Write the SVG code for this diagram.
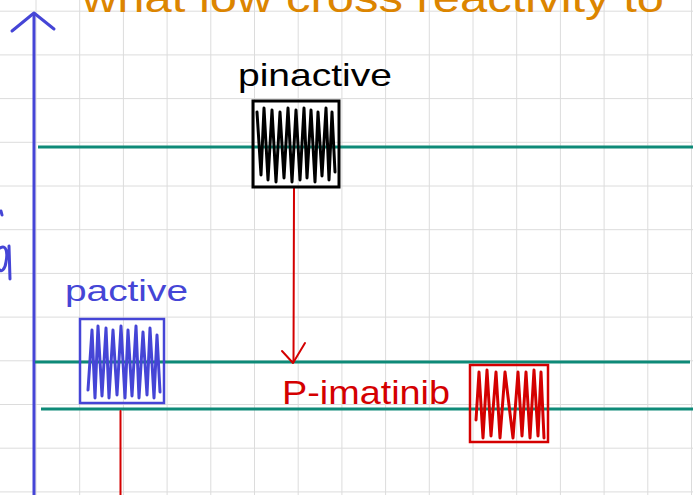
<svg xmlns="http://www.w3.org/2000/svg" width="693" height="495" viewBox="0 0 693 495">
<style>
.grid line{stroke:#dcdcdc;stroke-width:1}
.teal{stroke:#0e8a78;stroke-width:3;fill:none}
.hand{font-family:"Liberation Sans","DejaVu Sans",sans-serif}
.scrib{fill:none;stroke-width:3;stroke-linejoin:round;stroke-linecap:round}
</style>
<rect width="693" height="495" fill="#ffffff"/>
<g class="grid" id="grid">
<line x1="36" y1="0" x2="36" y2="495"/><line x1="79.7" y1="0" x2="79.7" y2="495"/><line x1="123.4" y1="0" x2="123.4" y2="495"/><line x1="167.1" y1="0" x2="167.1" y2="495"/><line x1="210.8" y1="0" x2="210.8" y2="495"/><line x1="254.5" y1="0" x2="254.5" y2="495"/><line x1="298.2" y1="0" x2="298.2" y2="495"/><line x1="341.9" y1="0" x2="341.9" y2="495"/><line x1="385.6" y1="0" x2="385.6" y2="495"/><line x1="429.3" y1="0" x2="429.3" y2="495"/><line x1="473" y1="0" x2="473" y2="495"/><line x1="516.7" y1="0" x2="516.7" y2="495"/><line x1="560.4" y1="0" x2="560.4" y2="495"/><line x1="604.1" y1="0" x2="604.1" y2="495"/><line x1="647.8" y1="0" x2="647.8" y2="495"/><line x1="691.5" y1="0" x2="691.5" y2="495"/>
<line x1="0" y1="11.2" x2="693" y2="11.2"/><line x1="0" y1="54.9" x2="693" y2="54.9"/><line x1="0" y1="98.6" x2="693" y2="98.6"/><line x1="0" y1="142.3" x2="693" y2="142.3"/><line x1="0" y1="186" x2="693" y2="186"/><line x1="0" y1="229.7" x2="693" y2="229.7"/><line x1="0" y1="273.4" x2="693" y2="273.4"/><line x1="0" y1="317.1" x2="693" y2="317.1"/><line x1="0" y1="360.8" x2="693" y2="360.8"/><line x1="0" y1="404.5" x2="693" y2="404.5"/><line x1="0" y1="448.2" x2="693" y2="448.2"/><line x1="0" y1="491.9" x2="693" y2="491.9"/>
</g>
<g id="title">
<text class="hand" x="82" y="12" font-size="40" fill="#dc8500" textLength="582" lengthAdjust="spacingAndGlyphs">what low cross reactivity to</text>
</g>
<g id="axis" stroke="#4545d6" stroke-width="3" fill="none" stroke-linecap="round" stroke-linejoin="round">
<line x1="34" y1="15" x2="34" y2="495"/>
<path d="M12,31 L34,13 L54,29"/>
<path d="M1,211 L2,215" />
<path d="M0,248 C6,244 8,252 6,262 C5,270 1,272 0,270 M9,246 L10,279"/>
</g>
<g id="levels" class="teal">
<line x1="38" y1="147" x2="693" y2="147"/>
<line x1="35" y1="362" x2="690" y2="362"/>
<line x1="41" y1="409" x2="693" y2="409"/>
</g>
<g id="connectors" stroke="#d40000" stroke-width="2" fill="none" stroke-linecap="round" stroke-linejoin="round">
<line x1="294" y1="188" x2="293.5" y2="362"/>
<path d="M282,351 L293,363 L305,343"/>
<line x1="120.5" y1="411" x2="120.5" y2="495"/>
</g>
<g id="pinactive">
<text class="hand" x="238" y="86" font-size="32" fill="#000" textLength="154" lengthAdjust="spacingAndGlyphs">pinactive</text>
<rect x="253" y="101" width="86" height="86" fill="none" stroke="#000" stroke-width="3"/>
<path class="scrib" stroke="#000" d="M257,112 L261,175 L264,108 L268,180 L272,110 L276,182 L280,112 L284,178 L288,108 L292,182 L296,110 L300,180 L304,108 L307,178 L311,110 L315,182 L318,112 L322,176 L326,108 L329,180 L332,112 L335,172"/>
</g>
<g id="pactive">
<text class="hand" x="65" y="301" font-size="30" fill="#4545d6" textLength="123" lengthAdjust="spacingAndGlyphs">pactive</text>
<rect x="80" y="319" width="84" height="84" fill="none" stroke="#4545d6" stroke-width="2.5"/>
<path class="scrib" stroke="#4545d6" d="M88,390 L92,330 L95,398 L98,326 L102,396 L106,328 L109,398 L113,330 L117,395 L121,326 L125,398 L128,330 L132,396 L136,326 L139,398 L143,332 L147,395 L150,328 L154,398 L157,335 L160,392"/>
</g>
<g id="p-imatinib">
<text class="hand" x="282" y="404" font-size="34" fill="#d40000" textLength="168" lengthAdjust="spacingAndGlyphs">P-imatinib</text>
<rect x="470" y="365" width="78" height="77" fill="none" stroke="#d40000" stroke-width="2.5"/>
<path class="scrib" stroke="#d40000" d="M476,420 L479,372 L483,438 L487,370 L491,436 L496,372 L500,438 L505,372 L513,438 L518,372 L522,436 L526,372 L530,438 L534,370 L538,436 L541,372 L544,438"/>
</g>
</svg>
